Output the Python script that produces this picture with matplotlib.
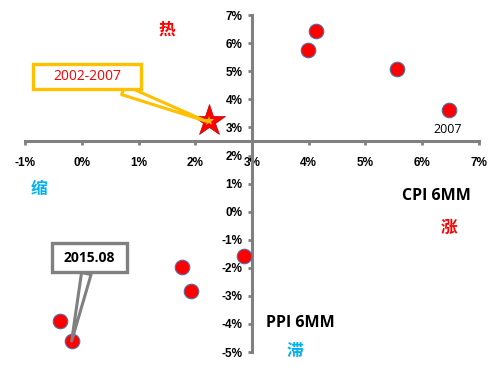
import numpy as np
import matplotlib
matplotlib.use("Agg")
import matplotlib.pyplot as plt

plt.rcParams['font.family'] = ['Liberation Sans', 'Noto Sans CJK SC', 'DejaVu Sans']

# CPI 6MM (x) vs PPI 6MM (y), in %
cpi_6mm = [4.12, 3.98, 5.55, 6.47, 2.86, 1.76, 1.92, -0.38, -0.18]
ppi_6mm = [6.43, 5.75, 5.07, 3.61, -1.57, -1.96, -2.82, -3.89, -4.61]
avg_label = "2002-2007"
avg_cpi, avg_ppi = 2.24, 3.22
label_2007 = "2007"
label_2015 = "2015.08"
x_ticks = [-1, 0, 1, 2, 3, 4, 5, 6, 7]
y_ticks = [-5, -4, -3, -2, -1, 0, 1, 2, 3, 4, 5, 6, 7]

grey = "#808080"
red = "#FF0000"
blue = "#00B0F0"
latin = ['Open Sans', 'DejaVu Sans']

fig = plt.figure(figsize=(5.02, 3.69), dpi=100)
ax = fig.add_axes([0.05, 0.046, 0.904, 0.913])
ax.set_xlim(-1, 7)
ax.set_ylim(-5, 7)

for side in ['top', 'right']:
    ax.spines[side].set_visible(False)
ax.spines['left'].set_position(('data', 3))
ax.spines['bottom'].set_position(('data', 2.5))
for side in ['left', 'bottom']:
    ax.spines[side].set_color(grey)
    ax.spines[side].set_linewidth(2.2)

ax.set_xticks(x_ticks)
ax.set_yticks(y_ticks)
ax.set_xticklabels(["%d%%" % v for v in x_ticks])
ax.set_yticklabels(["%d%%" % v for v in y_ticks])
ax.tick_params(axis='both', color=grey, width=2, length=3,
               labelsize=8.5, pad=4)
for lbl in ax.get_xticklabels() + ax.get_yticklabels():
    lbl.set_fontweight('bold')
ax.tick_params(axis='x', pad=8)

ax.scatter(cpi_6mm, ppi_6mm, s=110, color=red, edgecolors="#4F6FA8",
           linewidths=0.8, zorder=5, clip_on=False)
ax.plot([avg_cpi], [avg_ppi], marker='*', markersize=24, color=red,
        markeredgecolor="#C00000", markeredgewidth=0.5, zorder=6)
ax.plot([avg_cpi], [avg_ppi], marker='*', markersize=7, color="#FFC000",
        markeredgewidth=0, zorder=7)

ax.annotate(avg_label, xy=(avg_cpi - 0.05, avg_ppi), xytext=(0.09, 4.82),
            ha='center', va='center', color=red, fontsize=10,
            family=latin,
            bbox=dict(boxstyle="square,pad=1.45", mutation_aspect=0.25,
                      fc="white", ec="#FFC000", lw=2.4),
            arrowprops=dict(arrowstyle="wedge,tail_width=0.7,shrink_factor=0.5",
                            fc="white", ec="#FFC000", lw=2.2,
                            shrinkA=0, shrinkB=0),
            zorder=8)
ax.annotate(label_2015, xy=(cpi_6mm[8], ppi_6mm[8]), xytext=(0.14, -1.64),
            ha='center', va='center', color='black', fontsize=10,
            fontweight='bold', family=latin,
            bbox=dict(boxstyle="square,pad=0.85", mutation_aspect=0.65,
                      fc="white", ec=grey, lw=2.4),
            arrowprops=dict(arrowstyle="wedge,tail_width=0.7,shrink_factor=0.5",
                            fc="white", ec=grey, lw=2.2,
                            shrinkA=0, shrinkB=0),
            zorder=8)

ax.text(6.45, 2.92, label_2007, ha='center', va='center', fontsize=9,
        family=latin)
ax.text(6.25, 0.55, "CPI 6MM", ha='center', va='center', fontsize=11.5,
        fontweight='bold', family=latin)
ax.text(3.85, -3.97, "PPI 6MM", ha='center', va='center', fontsize=11.5,
        fontweight='bold', family=latin)

ax.text(1.5, 6.5, "热", color=red, ha='center', va='center', fontsize=12,
        fontweight='bold', family=['Noto Sans CJK SC'])
ax.text(-0.75, 0.8, "缩", color=blue, ha='center', va='center', fontsize=12,
        fontweight='bold', family=['Noto Sans CJK SC'])
ax.text(6.48, -0.6, "涨", color=red, ha='center', va='center', fontsize=12,
        fontweight='bold', family=['Noto Sans CJK SC'])
ax.text(3.75, -4.95, "滞", color=blue, ha='center', va='center', fontsize=12,
        fontweight='bold', family=['Noto Sans CJK SC'])

fig.savefig("out.png", dpi=100)
